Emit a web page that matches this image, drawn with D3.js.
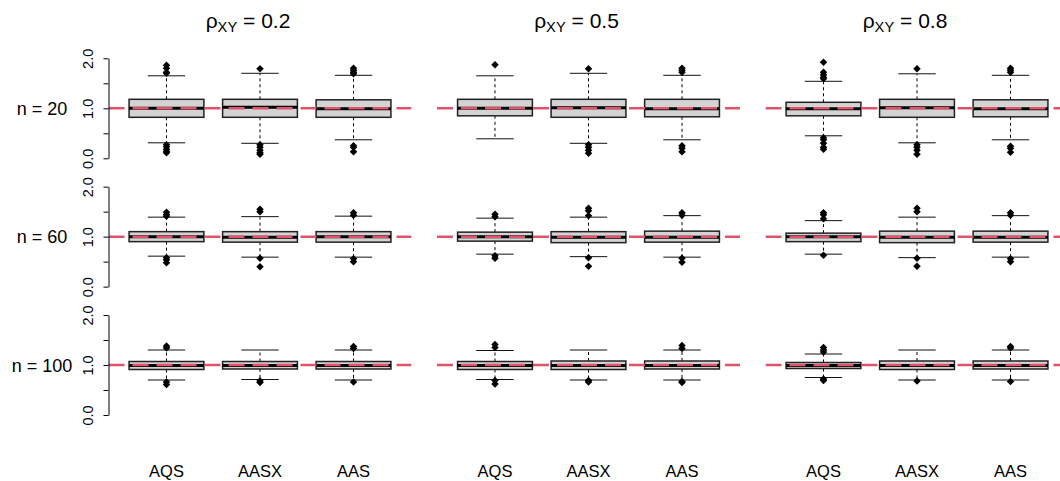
<!DOCTYPE html>
<html>
<head>
<meta charset="utf-8">
<script src="https://cdn.jsdelivr.net/npm/d3@7"></script>
<style>
  body { margin: 0; background: #fff; }
  svg { display: block; font-family: "Liberation Sans", Arial, sans-serif; }
</style>
</head>
<body>
<svg id="chart"></svg>
<script>
// categories and labels
const methods = ['AQS', 'AASX', 'AAS'];
const rhoValues = ['0.2', '0.5', '0.8'];
const sampleSizes = ['20', '60', '100'];
const yTicks = [0, 0.5, 1, 1.5, 2];
const yTickLabels = ['0.0', '', '1.0', '', '2.0'];
const refValue = 1;

// box summaries [lower whisker, Q1, median, Q3, upper whisker]; per rho, then per method
const statsN20 = [
  [[0.31, 0.82, 1.00, 1.18, 1.65], [0.30, 0.82, 1.02, 1.18, 1.70], [0.37, 0.82, 0.99, 1.17, 1.66]],
  [[0.39, 0.85, 1.00, 1.18, 1.65], [0.30, 0.82, 1.01, 1.18, 1.70], [0.37, 0.83, 0.99, 1.18, 1.66]],
  [[0.45, 0.85, 0.99, 1.12, 1.54], [0.31, 0.82, 1.01, 1.18, 1.69], [0.37, 0.83, 0.99, 1.17, 1.66]]
];
const statsN60 = [
  [[0.61, 0.90, 1.00, 1.10, 1.39], [0.59, 0.89, 0.99, 1.10, 1.40], [0.59, 0.89, 1.00, 1.10, 1.41]],
  [[0.65, 0.91, 1.00, 1.09, 1.37], [0.60, 0.88, 0.99, 1.10, 1.39], [0.59, 0.89, 0.99, 1.11, 1.42]],
  [[0.65, 0.90, 1.00, 1.07, 1.32], [0.58, 0.88, 0.99, 1.11, 1.39], [0.59, 0.89, 0.99, 1.11, 1.42]]
];
const statsN100 = [
  [[0.70, 0.91, 0.99, 1.07, 1.30], [0.71, 0.92, 0.99, 1.07, 1.30], [0.70, 0.92, 0.99, 1.07, 1.30]],
  [[0.71, 0.91, 0.99, 1.07, 1.29], [0.70, 0.91, 0.99, 1.08, 1.30], [0.70, 0.92, 0.99, 1.08, 1.30]],
  [[0.75, 0.93, 0.99, 1.05, 1.22], [0.70, 0.91, 0.99, 1.08, 1.30], [0.70, 0.92, 0.99, 1.08, 1.30]]
];

// outlying points, same layout
const outliersN20 = [
  [[1.86, 1.80, 1.72, 1.70, 0.27, 0.23, 0.18, 0.14, 0.11], [1.79, 0.27, 0.22, 0.16, 0.11, 0.08], [1.80, 1.76, 1.72, 1.69, 0.25, 0.22, 0.13]],
  [[1.87], [1.79, 0.27, 0.22, 0.16, 0.10], [1.80, 1.76, 1.72, 0.25, 0.20, 0.13]],
  [[1.92, 1.72, 1.67, 1.62, 1.59, 0.41, 0.37, 0.30, 0.22, 0.18], [1.79, 0.27, 0.22, 0.16, 0.08], [1.80, 1.76, 1.72, 0.24, 0.20, 0.12]]
];
const outliersN60 = [
  [[1.49, 1.44, 1.41, 0.58, 0.54, 0.48], [1.55, 1.50, 0.57, 0.40], [1.48, 1.43, 0.56, 0.50]],
  [[1.45, 1.40, 0.62, 0.57], [1.57, 1.52, 1.42, 0.58, 0.41], [1.48, 1.43, 0.57, 0.49]],
  [[1.48, 1.44, 1.36, 0.63], [1.57, 1.50, 0.57, 0.41], [1.48, 1.43, 0.56, 0.50]]
];
const outliersN100 = [
  [[1.38, 1.34, 0.66, 0.61], [0.68, 0.65], [1.37, 1.33, 0.66]],
  [[1.41, 1.35, 0.69, 0.62], [0.69, 0.66], [1.39, 1.33, 0.67, 0.65]],
  [[1.35, 1.30, 1.26, 0.72, 0.69], [0.68], [1.37, 1.34, 0.67]]
];

const statsByN = [statsN20, statsN60, statsN100];
const outliersByN = [outliersN20, outliersN60, outliersN100];

// layout
const width = 1060, height = 481;
const panelLeft = [108.5, 437, 765.5];
const panelWidth = 303;
const panelZero = [158.3, 286.65, 415];
const panelUnit = 50;
const refColor = '#DF536B';

const svg = d3.select('#chart').attr('width', width).attr('height', height);
const defs = svg.append('defs');
const diamond = d3.symbol().type(d3.symbolSquare).size(28);

statsByN.forEach((rowStats, r) => {
  const y = d3.scaleLinear()
    .domain([0, 2])
    .range([panelZero[r], panelZero[r] - 2 * panelUnit]);

  rowStats.forEach((panelStats, c) => {
    const x = d3.scaleLinear()
      .domain([0.38, 3.62])
      .range([panelLeft[c], panelLeft[c] + panelWidth]);

    const clipId = `clip-${r}-${c}`;
    defs.append('clipPath').attr('id', clipId)
      .append('rect')
      .attr('x', x.range()[0])
      .attr('y', y(2.08))
      .attr('width', x.range()[1] - x.range()[0])
      .attr('height', y(-0.08) - y(2.08));

    const g = svg.append('g');

    panelStats.forEach((s, i) => {
      const [lo, q1, med, q3, hi] = s;
      const cx = x(i + 1);
      const bx0 = x(i + 1 - 0.4), bx1 = x(i + 1 + 0.4);
      const sx0 = x(i + 1 - 0.2), sx1 = x(i + 1 + 0.2);

      // whiskers
      g.append('line')
        .attr('x1', cx).attr('x2', cx)
        .attr('y1', y(q3)).attr('y2', y(hi))
        .attr('stroke', '#000').attr('stroke-dasharray', '3,3');
      g.append('line')
        .attr('x1', cx).attr('x2', cx)
        .attr('y1', y(q1)).attr('y2', y(lo))
        .attr('stroke', '#000').attr('stroke-dasharray', '3,3');
      // staples
      [lo, hi].forEach(v => {
        g.append('line')
          .attr('x1', sx0).attr('x2', sx1)
          .attr('y1', y(v)).attr('y2', y(v))
          .attr('stroke', '#111');
      });
      // box
      g.append('rect')
        .attr('x', bx0).attr('y', y(q3))
        .attr('width', bx1 - bx0).attr('height', y(q1) - y(q3))
        .attr('fill', '#d3d3d3').attr('stroke', '#222').attr('stroke-width', 1.5);
      // median
      g.append('line')
        .attr('x1', bx0).attr('x2', bx1)
        .attr('y1', y(med)).attr('y2', y(med))
        .attr('stroke', '#000').attr('stroke-width', 3);
      // outliers
      g.selectAll(null)
        .data(outliersByN[r][c][i])
        .join('path')
        .attr('d', diamond)
        .attr('transform', d => `translate(${cx},${y(d)}) rotate(45)`)
        .attr('fill', '#000');
    });

    // reference line at 1
    g.append('line')
      .attr('clip-path', `url(#${clipId})`)
      .attr('x1', x.range()[0]).attr('x2', x.range()[1])
      .attr('y1', y(refValue)).attr('y2', y(refValue))
      .attr('stroke', refColor).attr('stroke-width', 2.5)
      .attr('stroke-dasharray', '16,8');

    // column titles
    if (r === 0) {
      const t = svg.append('text')
        .attr('x', panelLeft[c] + panelWidth / 2 - 12)
        .attr('y', 28.3)
        .attr('text-anchor', 'middle')
        .style('font-size', '21px');
      t.append('tspan').text('ρ');
      t.append('tspan').attr('dy', 3.4).style('font-size', '14.7px').text('XY');
      t.append('tspan').attr('dy', -3.4).text(` = ${rhoValues[c]}`);
    }

    // method labels under the last row
    if (r === statsByN.length - 1) {
      methods.forEach((m, i) => {
        svg.append('text')
          .attr('x', x(i + 1))
          .attr('y', 477)
          .attr('text-anchor', 'middle')
          .style('font-size', '16.5px')
          .text(m);
      });
    }
  });

  // y axis on the first column only
  const yAxis = d3.axisLeft(y)
    .tickValues(yTicks)
    .tickFormat((d, i) => yTickLabels[i])
    .tickSize(5)
    .tickSizeOuter(0);
  const axisG = svg.append('g')
    .attr('transform', `translate(${panelLeft[0]},0)`)
    .attr('font-size', null)
    .attr('font-family', null)
    .call(yAxis);
  axisG.selectAll('path, line').attr('stroke', '#000');
  axisG.selectAll('text')
    .attr('transform', 'rotate(-90)')
    .attr('x', 0)
    .attr('y', -16)
    .attr('dy', null)
    .attr('text-anchor', 'middle')
    .attr('fill', '#000')
    .attr('font-size', 14.5)
    .attr('font-family', '"Liberation Sans", Arial, sans-serif');

  // row label
  svg.append('text')
    .attr('x', 42)
    .attr('y', y(refValue) + 6.7)
    .attr('text-anchor', 'middle')
    .style('font-size', '18px')
    .text(`n = ${sampleSizes[r]}`);
});
</script>
</body>
</html>
